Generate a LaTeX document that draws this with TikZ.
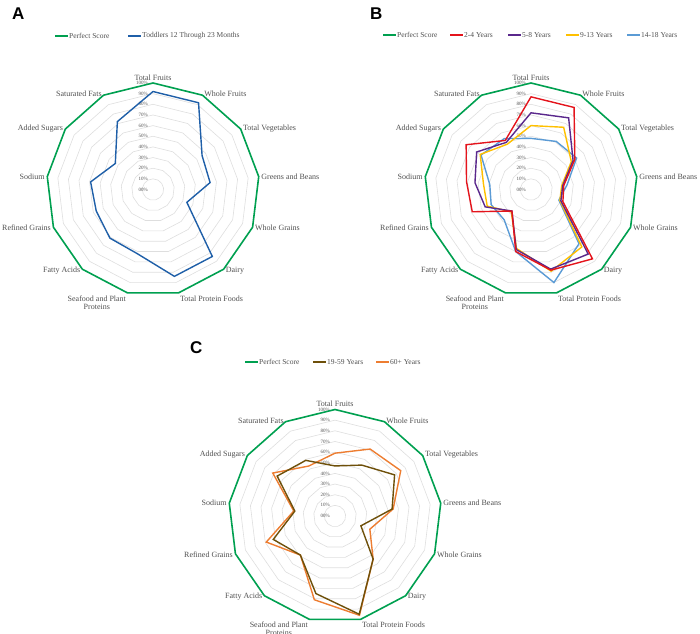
\documentclass[tikz,border=0pt]{standalone}
\usepackage{fontspec}
\setmainfont{Liberation Serif}
\newfontfamily\letterfont{Liberation Sans}
\usetikzlibrary{calc}
\begin{document}
\begin{tikzpicture}[x=1pt,y=1pt]
\definecolor{cgreen}{RGB}{0,160,80}
\definecolor{cblue}{RGB}{31,95,168}
\definecolor{cred}{RGB}{228,20,28}
\definecolor{cpurple}{RGB}{90,40,140}
\definecolor{cyellow}{RGB}{255,192,0}
\definecolor{clblue}{RGB}{91,155,213}
\definecolor{cbrown}{RGB}{110,80,10}
\definecolor{corange}{RGB}{237,125,49}
\definecolor{cgrid}{RGB}{222,222,222}
\definecolor{ctext}{RGB}{80,80,80}
\tikzset{
 gridline/.style={cgrid,line width=0.6pt},
 perfect/.style={cgreen,line width=1.6pt,line join=miter},
 series/.style={#1,line width=1.4pt,line join=miter},
 axlabel/.style={font=\fontsize{8}{8}\selectfont,text=ctext,inner sep=1pt,align=center},
 pctlabel/.style={font=\fontsize{5}{5}\selectfont,text=ctext,inner sep=0pt,anchor=east},
 legtext/.style={font=\fontsize{7.5}{8}\selectfont,text=ctext,anchor=west,inner sep=1pt},
 letter/.style={font=\letterfont\bfseries\fontsize{17}{17}\selectfont,anchor=north west,inner sep=0pt}
}
\useasboundingbox (0,0) rectangle (700,633);
\newcommand\myradar[4]{\draw[#2,shift={(#1)}] (90:{#3*1.065}) \foreach \v [count=\i] in {#4} {-- ({90-\i*360/13}:{\v*1.065})} -- cycle;}
\newcommand\mygrid[1]{%
 \foreach \p in {1,...,9}{\draw[gridline,shift={(#1)}] (90:{\p*10.65}) \foreach \i in {1,...,12}{-- ({90-\i*360/13}:{\p*10.65})} -- cycle;}
 \foreach \p in {0,...,10}{\node[pctlabel] (#1p\p) at ($(#1)+(-5,{\p*10.65})$) {\p0\%};}
 \myradar{#1}{perfect}{100}{100,100,100,100,100,100,100,100,100,100,100,100}
 \foreach \t/\anc [count=\i from 0] in {Total Fruits/south,Whole Fruits/west,Total Vegetables/west,Greens and Beans/west,Whole Grains/west,Dairy/west,Total Protein Foods/north west,{Seafood and Plant\\Proteins}/north east,Fatty Acids/east,Refined Grains/east,Sodium/east,Added Sugars/east,Saturated Fats/east}{
  \pgfmathsetmacro\ang{90-\i*360/13}
  \node[axlabel,anchor=\anc] (#1l\i) at ($(#1)+(\ang:108)$) {\t};}
}
\coordinate (A) at (153,443.5);
\coordinate (B) at (531,443.5);
\coordinate (C) at (335,117);
% letters
\node[letter] (la) at (12,625) {A};
\node[letter] (lb) at (370,625) {B};
\node[letter] (lc) at (190,292) {C};
% grids
\mygrid{A}
\mygrid{B}
\mygrid{C}
% chart A
\myradar{A}{series=cblue}{92}{92,56,54,34,84,84,62,61,57,59,43,72}
% chart B
\myradar{B}{series=clblue}{48}{51,52,34,28,68,90,60,38,40,39,57,54}
\myradar{B}{series=cyellow}{60}{66,46,29,29,72,79,57,28,44,45,58,48}
\myradar{B}{series=cpurple}{72}{76,48,30,30,81,77,58,27,46,53,62,50}
\myradar{B}{series=cred}{87}{87,50,31,32,87,78,60,27,59,61,74,52}
% chart C
\myradar{C}{series=corange}{59}{71,75,55,35,54,96,81,49,69,39,71,53}
\myradar{C}{series=cbrown}{47}{54,68,54,26,54,95,75,49,62,38,66,59}
% legends
\draw[perfect] (55,597) coordinate (ga1) -- (68,597) coordinate (ga2); \node[legtext] (ta1) at (ga2) {Perfect Score};
\draw[series=cblue] (128,597) coordinate (ba1) -- (141,597) coordinate (ba2); \node[legtext] (ta2) at (ba2) {Toddlers 12 Through 23 Months};
\draw[perfect] (383,598) -- (396,598) coordinate (gb); \node[legtext] (tb1) at (gb) {Perfect Score};
\draw[series=cred] (450,598) -- (463,598) coordinate (rb); \node[legtext] (tb2) at (rb) {2-4 Years};
\draw[series=cpurple] (508,598) -- (521,598) coordinate (pb); \node[legtext] (tb3) at (pb) {5-8 Years};
\draw[series=cyellow] (566,598) -- (579,598) coordinate (yb); \node[legtext] (tb4) at (yb) {9-13 Years};
\draw[series=clblue] (627,598) -- (640,598) coordinate (lbb); \node[legtext] (tb5) at (lbb) {14-18 Years};
\draw[perfect] (245,271) -- (258,271) coordinate (gc); \node[legtext] (tc1) at (gc) {Perfect Score};
\draw[series=cbrown] (313,271) -- (326,271) coordinate (bc); \node[legtext] (tc2) at (bc) {19-59 Years};
\draw[series=corange] (376,271) -- (389,271) coordinate (oc); \node[legtext] (tc3) at (oc) {60+ Years};
\end{tikzpicture}
\end{document}
